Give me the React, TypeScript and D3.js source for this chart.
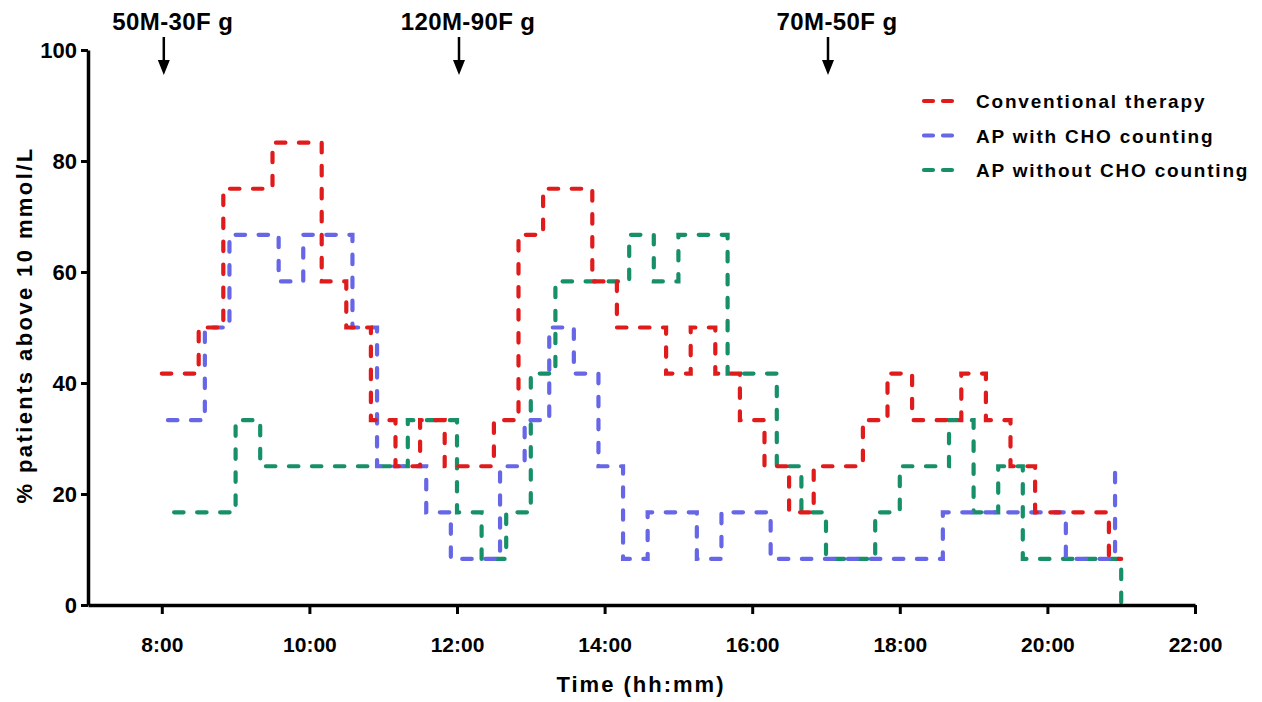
import React, { useRef, useEffect } from "react";
import * as d3 from "d3";

// step change points (time, % patients above 10 mmol/L)
const conventionalTimes = ["8:00", "8:30", "8:50", "9:30", "10:10", "10:30", "10:50", "11:10", "11:30", "11:50", "12:30", "12:50", "13:10", "13:50", "14:10", "14:50", "15:10", "15:30", "15:50", "16:10", "16:30", "16:50", "17:30", "17:50", "18:10", "18:50", "19:10", "19:30", "19:50", "20:50", "21:00"];
const conventionalValues = [41.7, 50, 75, 83.3, 58.3, 50, 33.3, 25, 33.3, 25, 33.3, 66.7, 75, 58.3, 50, 41.7, 50, 41.7, 33.3, 25, 16.7, 25, 33.3, 41.7, 33.3, 41.7, 33.3, 25, 16.7, 8.3, 8.3];

const withChoTimes = ["8:05", "8:35", "8:55", "9:35", "9:55", "10:35", "10:55", "11:35", "11:55", "12:35", "12:55", "13:15", "13:35", "13:55", "14:15", "14:35", "15:15", "15:35", "16:15", "18:35", "20:15", "20:55", "21:00"];
const withChoValues = [33.3, 50, 66.7, 58.3, 66.7, 50, 25, 16.7, 8.3, 25, 33.3, 50, 41.7, 25, 8.3, 16.7, 8.3, 16.7, 8.3, 16.7, 8.3, 25, 25];

const withoutChoTimes = ["8:10", "9:00", "9:20", "11:20", "12:00", "12:20", "12:40", "13:00", "13:20", "14:20", "14:40", "15:00", "15:40", "16:20", "16:40", "17:00", "17:40", "18:00", "18:40", "19:00", "19:20", "19:40", "21:00"];
const withoutChoValues = [16.7, 33.3, 25, 33.3, 16.7, 8.3, 16.7, 41.7, 58.3, 66.7, 58.3, 66.7, 41.7, 25, 16.7, 8.3, 16.7, 25, 33.3, 16.7, 25, 8.3, 0];

const seriesNames = ["Conventional therapy", "AP with CHO counting", "AP without CHO counting"];
const seriesColors = ["#e01b1b", "#6666e6", "#17906a"];

const xTicks = [8, 10, 12, 14, 16, 18, 20, 22];
const yTicks = [0, 20, 40, 60, 80, 100];

const mealTimes = [8, 12, 17];
const mealLabels = ["50M-30F g", "120M-90F g", "70M-50F g"];

const toHours = (s: string) => {
  const [h, m] = s.split(":").map(Number);
  return h + m / 60;
};

const App = () => {
  const svgRef = useRef<SVGSVGElement>(null);

  useEffect(() => {
    const svg = d3.select(svgRef.current);
    svg.selectAll("*").remove();

    const font = "'Liberation Sans', Arial, sans-serif";
    const x = d3.scaleLinear().domain([7, 22]).range([88, 1195]);
    const y = d3.scaleLinear().domain([0, 100]).range([605, 50]);

    const series = [
      { times: conventionalTimes, values: conventionalValues },
      { times: withChoTimes, values: withChoValues },
      { times: withoutChoTimes, values: withoutChoValues },
    ];

    const line = d3
      .line<[number, number]>()
      .x((d) => x(d[0]))
      .y((d) => y(d[1]))
      .curve(d3.curveStepAfter);

    // draw green first, red last
    [2, 1, 0].forEach((i) => {
      const pts: [number, number][] = series[i].times.map((t, j) => [toHours(t), series[i].values[j]]);
      svg
        .append("path")
        .attr("d", line(pts))
        .attr("fill", "none")
        .attr("stroke", seriesColors[i])
        .attr("stroke-width", 4.2)
        .attr("stroke-dasharray", "9.5 13.5")
        .attr("stroke-linecap", "round");
    });

    // axes
    const xAxis = svg
      .append("g")
      .attr("transform", `translate(0, ${y(0)})`)
      .call(d3.axisBottom(x).tickValues(xTicks).tickSize(9).tickSizeOuter(0).tickFormat((d) => `${d}:00`));
    xAxis.select(".domain").attr("stroke-width", 3.5);
    xAxis.selectAll(".tick line").attr("stroke-width", 3);
    xAxis
      .selectAll("text")
      .attr("dy", "1.68em")
      .style("font-family", font)
      .style("font-size", "21px")
      .style("font-weight", "bold");

    const yAxis = svg
      .append("g")
      .attr("transform", `translate(${x(7)}, 0)`)
      .call(d3.axisLeft(y).tickValues(yTicks).tickSize(7).tickSizeOuter(0).tickPadding(4));
    yAxis.select(".domain").attr("stroke-width", 3.5);
    yAxis.selectAll(".tick line").attr("stroke-width", 3);
    yAxis
      .selectAll("text")
      .style("font-family", font)
      .style("font-size", "22px")
      .style("font-weight", "bold");

    // axis titles
    svg
      .append("text")
      .attr("x", 641)
      .attr("y", 692)
      .attr("text-anchor", "middle")
      .style("font-family", font)
      .style("font-size", "22px")
      .style("font-weight", "bold")
      .style("letter-spacing", "2px")
      .text("Time (hh:mm)");

    svg
      .append("text")
      .attr("transform", "translate(32, 325) rotate(-90)")
      .attr("text-anchor", "middle")
      .style("font-family", font)
      .style("font-size", "22px")
      .style("font-weight", "bold")
      .style("letter-spacing", "2.4px")
      .text("% patients above 10 mmol/L");

    // meal arrows
    mealTimes.forEach((t, i) => {
      const cx = x(t) + 2;
      svg
        .append("text")
        .attr("x", cx + 9)
        .attr("y", 30)
        .attr("text-anchor", "middle")
        .style("font-family", font)
        .style("font-size", "24px")
        .style("font-weight", "bold")
        .style("letter-spacing", "0.4px")
        .text(mealLabels[i]);
      svg
        .append("line")
        .attr("x1", cx)
        .attr("x2", cx)
        .attr("y1", 37)
        .attr("y2", 64)
        .attr("stroke", "black")
        .attr("stroke-width", 2.5);
      svg
        .append("path")
        .attr("d", `M${cx - 6},${60} L${cx + 6},${60} L${cx},${75} Z`)
        .attr("fill", "black");
    });

    // legend
    const legend = svg.append("g");
    seriesNames.forEach((name, i) => {
      const ly = 101 + i * 34.5;
      legend
        .append("line")
        .attr("x1", 924)
        .attr("x2", 955)
        .attr("y1", ly)
        .attr("y2", ly)
        .attr("stroke", seriesColors[i])
        .attr("stroke-width", 4.2)
        .attr("stroke-dasharray", "9 10")
        .attr("stroke-linecap", "round");
      legend
        .append("text")
        .attr("x", 976)
        .attr("y", ly + 7)
        .style("font-family", font)
        .style("font-size", "19px")
        .style("font-weight", "bold")
        .style("letter-spacing", "1.8px")
        .text(name);
    });
  }, []);

  return (
    <svg
      ref={svgRef}
      width={1262}
      height={702}
      style={{ position: "absolute", left: 0, top: 0, display: "block", background: "white" }}
    ></svg>
  );
};

export default App;
